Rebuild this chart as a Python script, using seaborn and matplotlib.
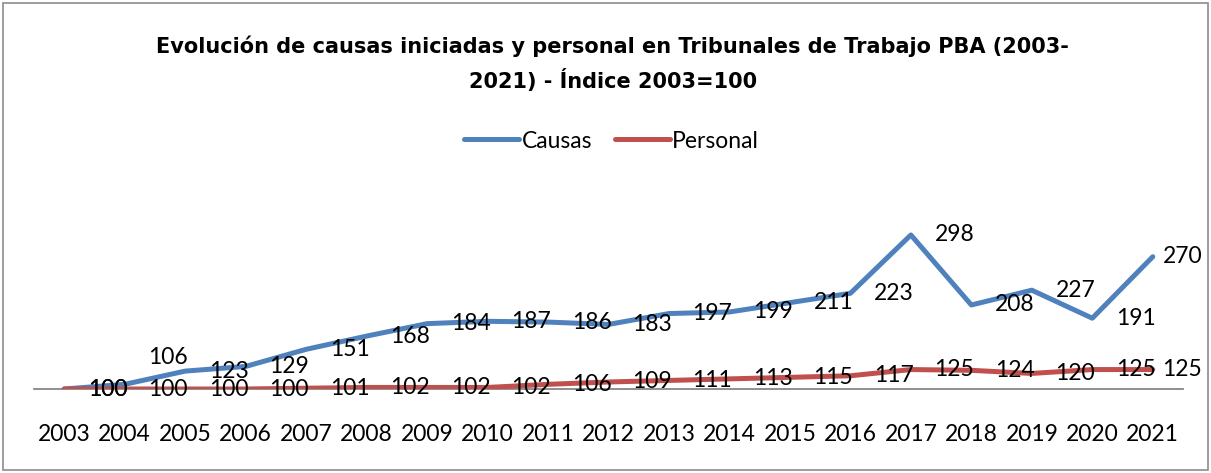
import matplotlib
matplotlib.use("Agg")
import matplotlib.pyplot as plt
import seaborn as sns
import pandas as pd
from matplotlib.patches import Rectangle

years=[str(y) for y in range(2003,2022)]
causas=[100,106,123,129,151,168,184,187,186,183,197,199,211,223,298,208,227,191,270]
personal=[100,100,100,100,101,102,102,102,106,109,111,113,115,117,125,124,120,125,125]

title="Evolución de causas iniciadas y personal en Tribunales de Trabajo PBA (2003-\n2021) - Índice 2003=100"

sns.set_theme(style="white")
plt.rcParams['font.family']=['Lato','DejaVu Sans']
plt.rcParams['text.color']="black"

df=pd.DataFrame({"idx":range(len(years)),"Causas":causas,"Personal":personal})
long=df.melt(id_vars="idx",var_name="serie",value_name="valor")

fig=plt.figure(figsize=(12.11,4.73),dpi=100)
ax=fig.add_axes([34/1211,1-389/473,(1183-34)/1211,(389-194.5)/473])

colors={"Causas":"#4F81BD","Personal":"#C0504D"}
sns.lineplot(data=long,x="idx",y="valor",hue="serie",palette=colors,
             linewidth=3.6,ax=ax,legend=False,solid_capstyle="round")

ax.set_xlim(-0.5,len(years)-0.5)
ax.set_ylim(100,350)
ax.set_xticks(range(len(years)))
ax.set_xticklabels(years,fontsize=16.5,color="black")
ax.tick_params(axis="x",length=0,pad=25)
ax.set_yticks([])
ax.set_xlabel("")
ax.set_ylabel("")
for s in ["top","right","left"]:
    ax.spines[s].set_visible(False)
ax.spines["bottom"].set_color("#868686")
ax.spines["bottom"].set_linewidth(1.3)
ax.spines["bottom"].set_zorder(0)

# data labels to the right of each point
last=len(years)-1
for serie in [causas,personal]:
    for i,v in enumerate(serie):
        dx=7 if i==last else 17
        dy=0
        if serie is causas and i==1:
            dy=19
        ax.annotate(str(v),(i,v),xytext=(dx,dy),textcoords="offset points",
                    ha="left",va="center",fontsize=16.5,color="black",
                    annotation_clip=False)

fig.text(0.506,1-64/473,title,ha="center",va="center",fontsize=15,color="black",
         fontweight="bold",linespacing=1.65,family=['DejaVu Sans'])

handles=[plt.Line2D([],[],color=colors[k],linewidth=3.6) for k in ["Causas","Personal"]]
fig.legend(handles,["Causas","Personal"],loc="center",bbox_to_anchor=(0.505,1-141/473),
           ncol=2,frameon=False,fontsize=16.5,handlelength=2.4,handletextpad=0.1,
           columnspacing=1.0,labelcolor="black")

fig.patches.append(Rectangle((3/1211,3/473),1205/1211,467/473,transform=fig.transFigure,
                             fill=False,edgecolor="#8c8c8c",linewidth=1.2))

fig.savefig("out.png",dpi=100)
